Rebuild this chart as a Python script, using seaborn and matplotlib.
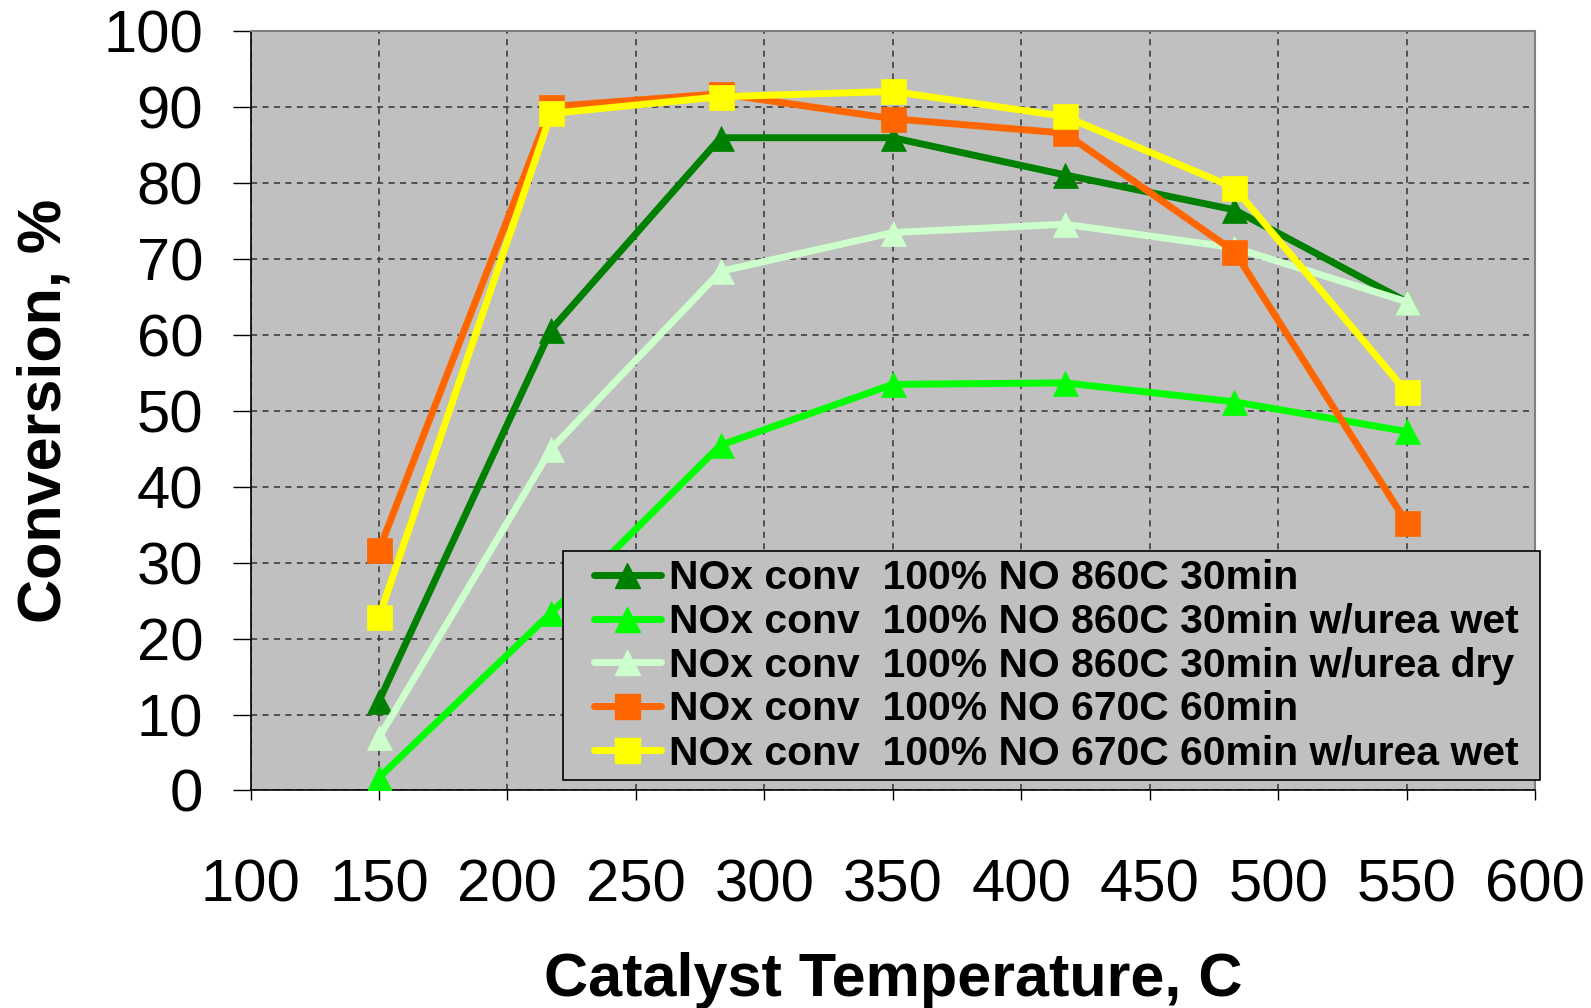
import matplotlib
matplotlib.use("Agg")
import matplotlib.pyplot as plt
import seaborn as sns
import pandas as pd
from matplotlib.lines import Line2D
from matplotlib.legend_handler import HandlerLine2D

# Catalyst inlet temperatures (C)
temperature = [150, 217, 283, 350, 417, 483, 550]

# NOx conversion (%) for each aging / urea condition
conv_860_30 = [11.8, 60.7, 86.0, 86.0, 81.1, 76.5, 64.4]
conv_860_30_wet = [1.7, 23.4, 45.5, 53.5, 53.7, 51.2, 47.3]
conv_860_30_dry = [7.0, 45.0, 68.4, 73.5, 74.6, 71.5, 64.4]
conv_670_60 = [31.7, 90.1, 91.8, 88.5, 86.6, 71.0, 35.3]
conv_670_60_wet = [22.9, 89.2, 91.4, 92.1, 88.8, 79.4, 52.5]

series_names = [
    "NOx conv  100% NO 860C 30min",
    "NOx conv  100% NO 860C 30min w/urea wet",
    "NOx conv  100% NO 860C 30min w/urea dry",
    "NOx conv  100% NO 670C 60min",
    "NOx conv  100% NO 670C 60min w/urea wet",
]
series_values = [conv_860_30, conv_860_30_wet, conv_860_30_dry, conv_670_60, conv_670_60_wet]
series_colors = ["#008000", "#00FF00", "#CCFFCC", "#FF6600", "#FFFF00"]
series_markers = ["^", "^", "^", "s", "s"]

x_ticks = [100, 150, 200, 250, 300, 350, 400, 450, 500, 550, 600]
y_ticks = [0, 10, 20, 30, 40, 50, 60, 70, 80, 90, 100]

df = pd.DataFrame({
    "Temperature": temperature * len(series_names),
    "Conversion": sum(series_values, []),
    "Series": [n for n in series_names for _ in temperature],
})

sns.set_theme(style="white")
plt.rcParams["font.family"] = ["Liberation Sans", "DejaVu Sans"]
plt.rcParams["text.color"] = "black"
plt.rcParams["axes.labelcolor"] = "black"
plt.rcParams["xtick.color"] = "black"
plt.rcParams["ytick.color"] = "black"


class OffsetLineHandler(HandlerLine2D):
    """Line handler that leaves some blank room before the sample line."""

    def __init__(self, offset, **kw):
        super().__init__(**kw)
        self.offset = offset

    def create_artists(self, legend, orig_handle, xdescent, ydescent, width,
                       height, fontsize, trans):
        shift = self.offset * fontsize
        return super().create_artists(legend, orig_handle, xdescent - shift,
                                      ydescent, width - shift, height,
                                      fontsize, trans)


fig = plt.figure(figsize=(15.91, 10.08), dpi=100)
fig.patch.set_facecolor("white")
ax = fig.add_axes([0.1575, 0.2158, 0.8073, 0.7530])
ax.set_facecolor("#C0C0C0")

handles = []
for name, color, marker in zip(series_names, series_colors, series_markers):
    sub = df[df["Series"] == name]
    msize = 18
    sns.lineplot(data=sub, x="Temperature", y="Conversion", ax=ax, color=color,
                 marker=marker, markersize=msize, markeredgecolor=color,
                 markeredgewidth=0.5, linewidth=5, legend=False, zorder=3)
    handles.append(Line2D([0], [0], color=color, marker=marker, markersize=msize,
                          markeredgecolor=color, linewidth=5, label=name))

ax.set_xlim(100, 600)
ax.set_ylim(0, 100)
ax.set_xticks(x_ticks)
ax.set_yticks(y_ticks)
ax.grid(True, color="#333333", linestyle=(0, (4, 3.5)), linewidth=1.1)
ax.set_axisbelow(True)

for side in ["left", "bottom"]:
    ax.spines[side].set_color("black")
    ax.spines[side].set_linewidth(1.2)
for side in ["top", "right"]:
    ax.spines[side].set_color("#808080")
    ax.spines[side].set_linewidth(1.5)

ax.tick_params(axis="y", direction="out", length=13, width=1, pad=21, labelsize=43,
               left=True, color="black", labelcolor="black")
ax.tick_params(axis="x", direction="out", length=7, width=1, pad=42, labelsize=43,
               bottom=True, color="black", labelcolor="black")

ax.set_xlabel("Catalyst Temperature, C", fontsize=44, fontweight="bold", color="black")
ax.set_ylabel("Conversion, %", fontsize=44, fontweight="bold", color="black")
ax.xaxis.set_label_coords(0.5, -0.2134)
ax.yaxis.set_label_coords(-0.1375, 0.5)

fig_w, fig_h = 1591, 1008
leg = fig.legend(handles=handles, loc="upper left",
                 bbox_to_anchor=(563 / fig_w, 1 - 551 / fig_h, 977 / fig_w, 0.0),
                 mode="expand",
                 handler_map={Line2D: OffsetLineHandler(0.55)},
                 prop={"size": 29.4, "weight": "bold"}, frameon=True, fancybox=False,
                 facecolor="#C0C0C0", edgecolor="black", framealpha=1,
                 handlelength=2.2, handletextpad=0.2, labelspacing=0.14,
                 borderpad=0.2, borderaxespad=0)
leg.get_frame().set_linewidth(1.2)
for t in leg.get_texts():
    t.set_color("black")

fig.savefig("out.png", dpi=100, facecolor="white")
